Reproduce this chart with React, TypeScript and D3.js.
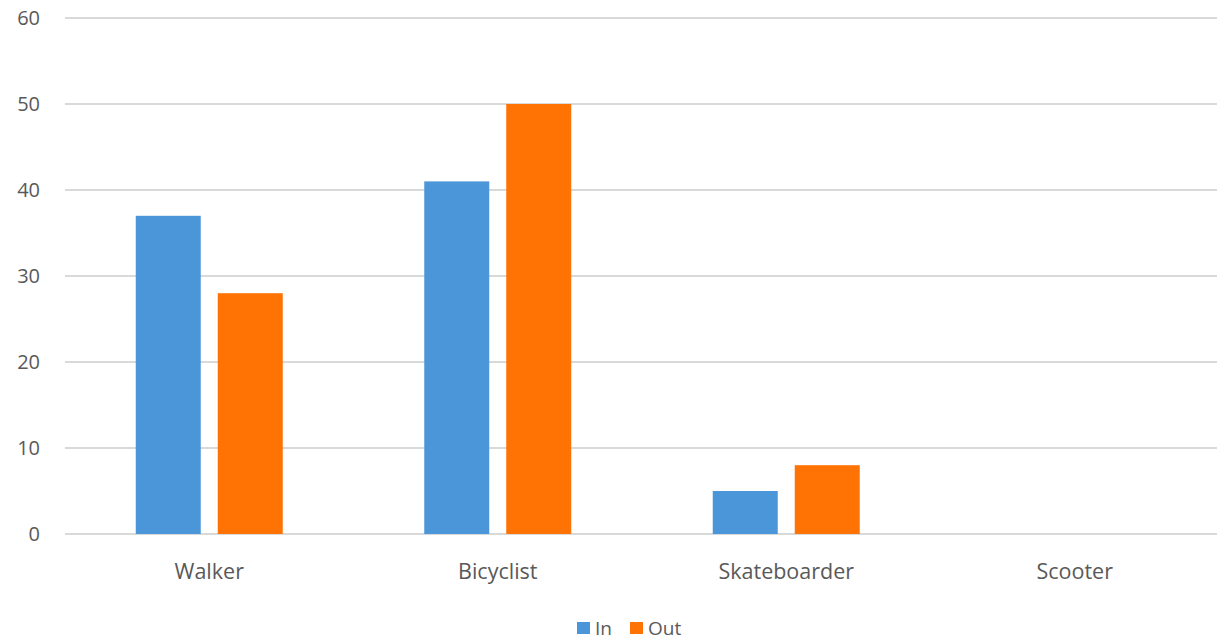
import React from "react";
import * as d3 from "d3";

const categories = ["Walker", "Bicyclist", "Skateboarder", "Scooter"];
const seriesNames = ["In", "Out"];
const inValues = [37, 41, 5, 0];
const outValues = [28, 50, 8, 0];
const yTicks = [0, 10, 20, 30, 40, 50, 60];

const colors = ["#4b96d8", "#ff7204"];

const W = 1217;
const H = 642;
const left = 65;
const right = 1219;
const top = 18;
const bottom = 534;

export default function App() {
  const x = d3.scaleBand<string>().domain(categories).range([left, right]).paddingInner(0).paddingOuter(0);
  const y = d3.scaleLinear().domain([0, 60]).range([bottom, top]);
  const barW = 65;
  const gap = 17;
  const series = [inValues, outValues];
  const font = "'Open Sans', 'Noto Sans', sans-serif";

  return (
    <svg width={W} height={H} style={{ position: "absolute", left: 0, top: 0, background: "#fff" }}>
      {yTicks.map((t) => (
        <g key={t}>
          <line x1={left} x2={W} y1={y(t)} y2={y(t)} stroke="#d9d9d9" strokeWidth={2} />
          <text x={40} y={y(t)} dy="0.35em" textAnchor="end" fontSize={20} fill="#595959" fontFamily={font}>
            {t}
          </text>
        </g>
      ))}
      {categories.map((c, i) => {
        const cx = (x(c) ?? 0) + x.bandwidth() / 2;
        return (
          <g key={c}>
            {series.map((vals, s) => {
              const bx = cx - gap / 2 - barW + s * (barW + gap);
              return (
                <rect
                  key={s}
                  x={bx}
                  y={y(vals[i])}
                  width={barW}
                  height={bottom - y(vals[i])}
                  fill={colors[s]}
                />
              );
            })}
            <text x={cx} y={571} dy="0.35em" textAnchor="middle" fontSize={21.5} fill="#595959" fontFamily={font}>
              {c}
            </text>
          </g>
        );
      })}
      <g>
        {seriesNames.map((n, s) => {
          const lx = s === 0 ? 577 : 630;
          return (
            <g key={n}>
              <rect x={lx} y={622} width={13} height={12} fill={colors[s]} />
              <text x={lx + 18} y={628} dy="0.35em" fontSize={19} fill="#595959" fontFamily={font}>
                {n}
              </text>
            </g>
          );
        })}
      </g>
    </svg>
  );
}
